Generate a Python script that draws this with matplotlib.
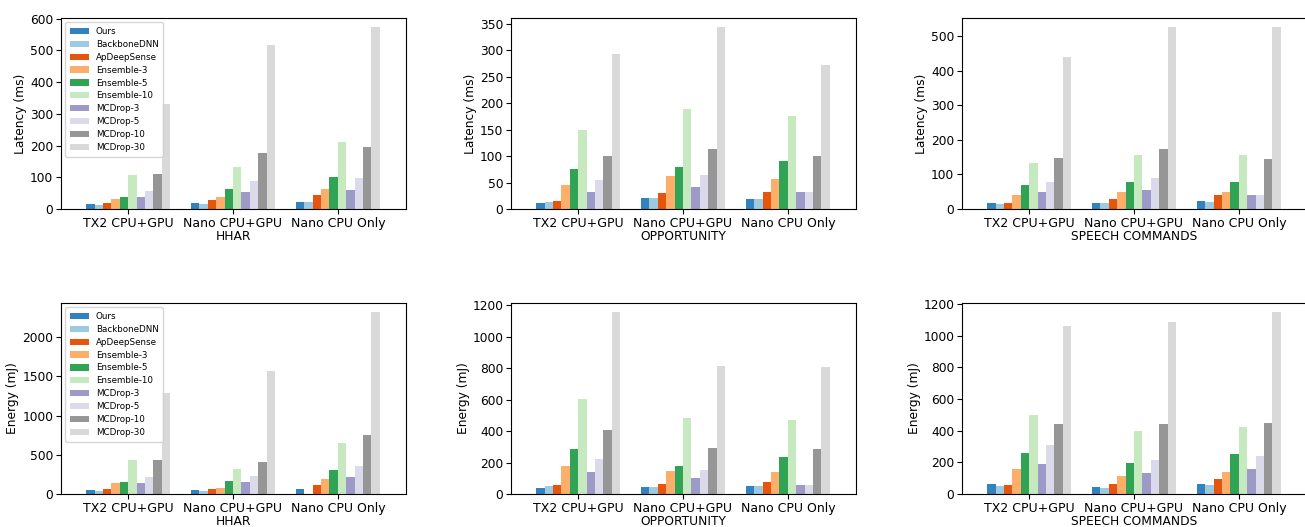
import matplotlib
matplotlib.use("Agg")
import matplotlib.pyplot as plt
from matplotlib.ticker import MultipleLocator
import numpy as np

platforms = ["TX2 CPU+GPU", "Nano CPU+GPU", "Nano CPU Only"]
methods = ["Ours", "BackboneDNN", "ApDeepSense", "Ensemble-3", "Ensemble-5",
           "Ensemble-10", "MCDrop-3", "MCDrop-5", "MCDrop-10", "MCDrop-30"]
colors = ["#3182bd", "#9ecae1", "#e6550d", "#fdae6b", "#31a354",
          "#c7e9c0", "#9e9ac8", "#dadaeb", "#969696", "#d9d9d9"]
datasets = ["HHAR", "OPPORTUNITY", "SPEECH COMMANDS"]

# Latency (ms): rows = platforms, cols = methods
lat_hhar = [
    [15, 12, 19, 32, 37, 107, 37, 56, 110, 332],
    [19, 15, 28, 37, 62, 132, 54, 88, 176, 517],
    [22, 22, 44, 62, 100, 210, 60, 97, 194, 573],
]
lat_opp = [
    [11, 13, 15, 45, 75, 150, 32, 55, 100, 293],
    [21, 21, 30, 62, 79, 190, 41, 64, 113, 344],
    [19, 19, 32, 56, 90, 175, 32, 32, 100, 273],
]
lat_speech = [
    [17, 14, 17, 40, 69, 132, 48, 78, 149, 440],
    [17, 17, 28, 48, 78, 155, 55, 89, 175, 527],
    [22, 20, 40, 48, 78, 155, 42, 42, 146, 527],
]
# Energy (mJ)
eng_hhar = [
    [55, 40, 68, 135, 155, 435, 145, 220, 435, 1290],
    [55, 40, 68, 80, 170, 325, 155, 235, 410, 1570],
    [70, 0, 120, 195, 310, 655, 220, 360, 755, 2320],
]
eng_opp = [
    [40, 52, 58, 175, 287, 605, 142, 225, 408, 1155],
    [46, 46, 65, 148, 180, 485, 103, 155, 295, 815],
    [52, 52, 78, 142, 237, 472, 60, 60, 288, 808],
]
eng_speech = [
    [65, 52, 58, 155, 262, 500, 192, 312, 443, 1065],
    [45, 40, 65, 115, 198, 400, 130, 217, 443, 1085],
    [65, 58, 97, 142, 255, 425, 160, 242, 450, 1150],
]

latency = [lat_hhar, lat_opp, lat_speech]
energy = [eng_hhar, eng_opp, eng_speech]
latency_tick_step = [100, 50, 100]
energy_tick_step = [500, 200, 200]

fig = plt.figure(figsize=(13.05, 5.27), dpi=100)
lefts = [61 / 1305, 511 / 1305, 962 / 1305]
w = 345 / 1305
h = 191 / 527
bottoms = [1 - 209 / 527, 1 - 494 / 527]

FS = 8.8
bw = 0.08
x = np.arange(len(platforms))

rows = [(latency, "Latency (ms)", latency_tick_step),
        (energy, "Energy (mJ)", energy_tick_step)]
for row, (data_all, ylabel, steps) in enumerate(rows):
    for col in range(3):
        ax = fig.add_axes([lefts[col], bottoms[row], w, h])
        data = np.array(data_all[col])
        for j, m in enumerate(methods):
            ax.bar(x + (j - 4.5) * bw, data[:, j], width=bw, color=colors[j], label=m)
        ax.set_xticks(x)
        ax.set_xticklabels(platforms, fontsize=9)
        ax.yaxis.set_major_locator(MultipleLocator(steps[col]))
        ax.tick_params(axis="y", labelsize=FS, pad=2)
        ax.tick_params(axis="x", pad=2)
        ax.set_xlim(-0.64, 2.65)
        ax.set_ylabel(ylabel, fontsize=FS, labelpad=2)
        ax.set_xlabel(datasets[col], fontsize=FS, labelpad=0)
        if col == 0:
            ax.legend(loc="upper left", fontsize=6.3, handlelength=2.2,
                      labelspacing=0.45, borderpad=0.5)

fig.savefig("out.png", dpi=100)
